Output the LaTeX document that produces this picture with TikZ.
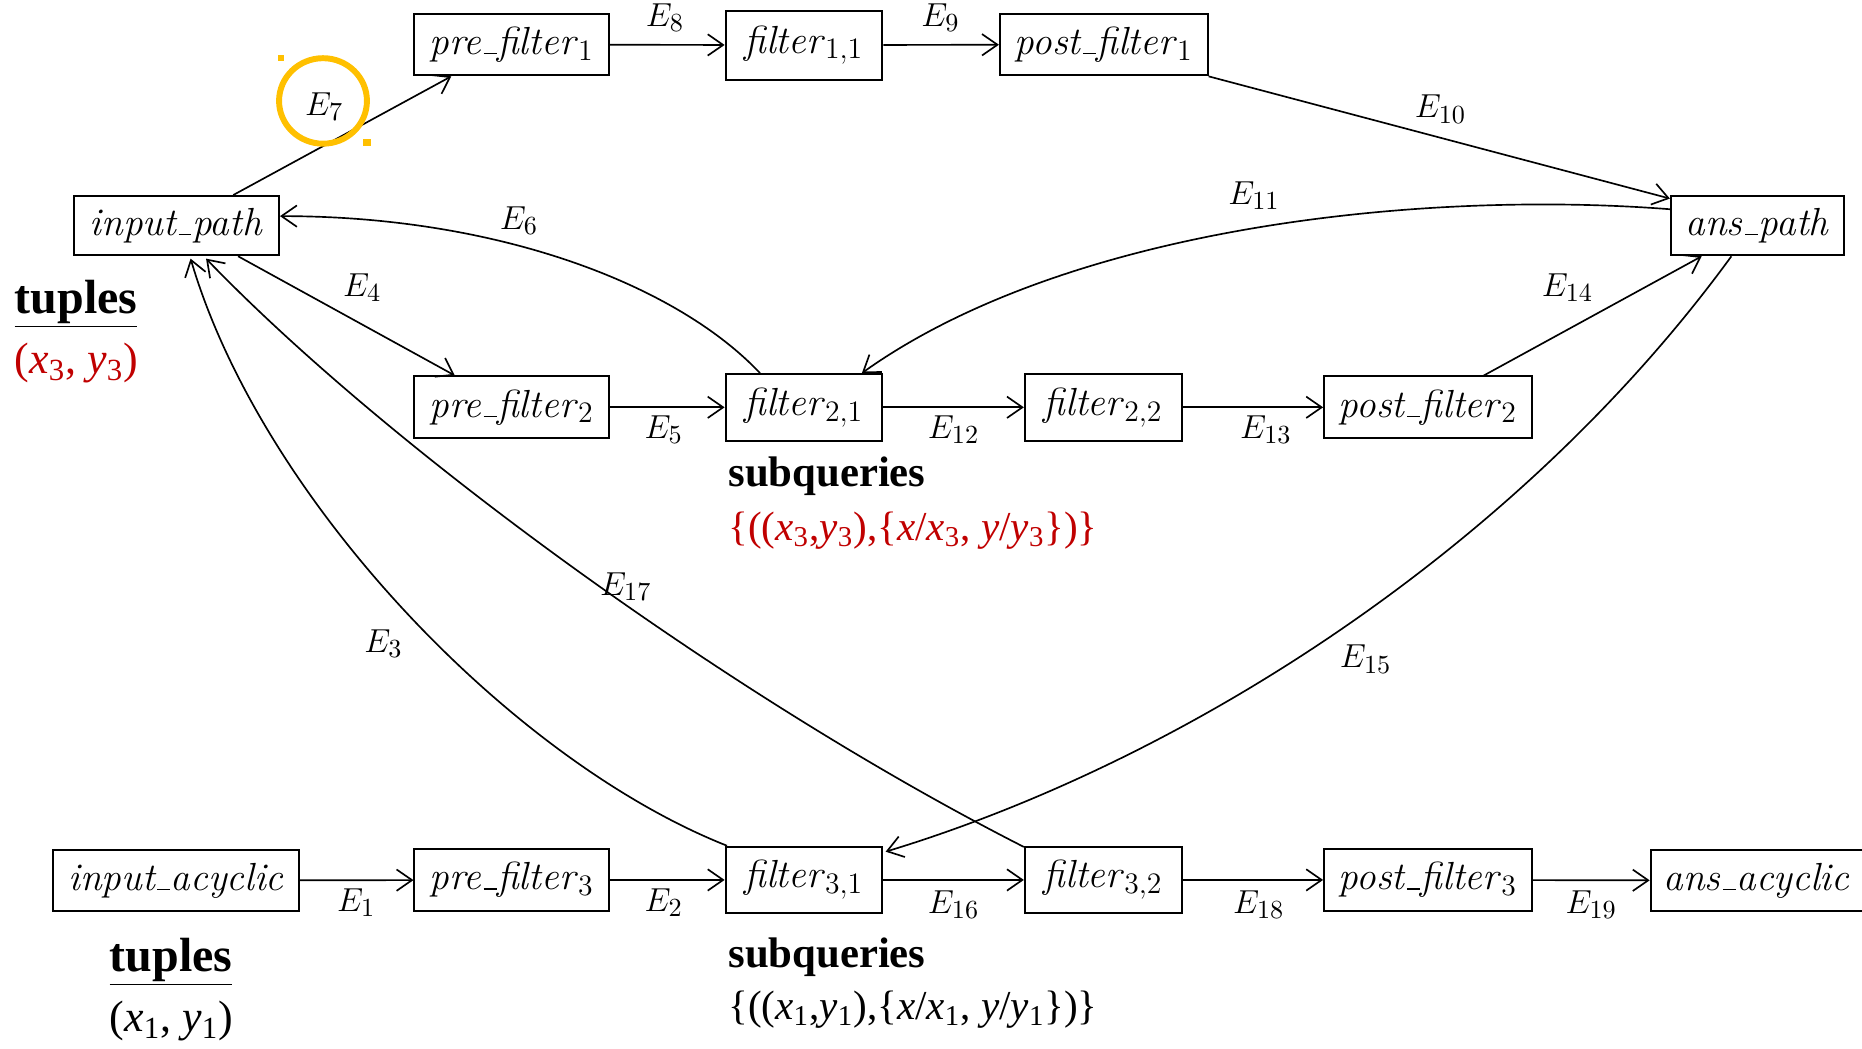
\documentclass[tikz,border=0pt]{standalone}
\usepackage{fix-cm}
\usepackage{fontspec}
\newfontfamily\libserif{Liberation Serif}
\usetikzlibrary{arrows.meta,calc}
\definecolor{hlred}{HTML}{C00000}
\definecolor{hlorange}{HTML}{FFC000}
\DeclareMathSizes{16.5}{16.5}{12.5}{9}
\DeclareMathSizes{14}{14}{11}{8}
\newcommand\us{\leavevmode\kern.06em\vbox{\hrule width.33em height .04em}\kern.02em}
\newcommand\boxfont{\fontsize{16.5}{19}\selectfont}
\newcommand\labfont{\fontsize{14}{16}\selectfont}
\newcommand\notefont{\libserif\fontsize{18.5}{22}\selectfont}
\tikzset{
  box/.style={draw, line width=0.8pt, inner sep=0pt, font=\boxfont},
  pbox/.style={box, minimum width=82pt, minimum height=26pt},
  fbox/.style={box, minimum width=66pt, minimum height=28pt},
  qbox/.style={box, minimum width=87.5pt, minimum height=26pt},
  arr/.style={line width=0.7pt, -{Straight Barb[length=6.5pt,width=9pt,line width=0.7pt]}},
  elab/.style={font=\labfont, inner sep=0pt},
  note/.style={font=\notefont, inner sep=0pt, anchor=west},
}
\begin{document}
\begin{tikzpicture}[x=0.5pt,y=-0.5pt]
\useasboundingbox (0,0) rectangle (1568,883);
% top row
\node[pbox] (pf1) at (431,37.5) {\textit{pre\us filter}$_1$};
\node[fbox, minimum height=29pt] (f11) at (677,38) {\textit{filter}$_{1,1}$};
\node[qbox] (pof1) at (929.5,37.5) {\textit{post\us filter}$_1$};
% middle row
\node[box, minimum width=86.5pt, minimum height=25pt] (ip) at (148.5,190) {\textit{input\us path}};
\node[box, minimum width=73pt, minimum height=25pt] (ap) at (1480,190) {\textit{ans\us path}};
\node[pbox] (pf2) at (431,343) {\textit{pre\us filter}$_2$};
\node[fbox] (f21) at (677,343) {\textit{filter}$_{2,1}$};
\node[fbox] (f22) at (929,343) {\textit{filter}$_{2,2}$};
\node[qbox] (pof2) at (1202.5,343) {\textit{post\us filter}$_2$};
% bottom row
\node[box, minimum width=103.5pt, minimum height=25.5pt] (ia) at (148.5,741.5) {\textit{input\us acyclic}};
\node[pbox] (pf3) at (431,741) {\textit{pre\us filter}$_3$};
\node[fbox] (f31) at (677,741) {\textit{filter}$_{3,1}$};
\node[fbox] (f32) at (929,741) {\textit{filter}$_{3,2}$};
\node[qbox] (pof3) at (1202.5,741) {\textit{post\us filter}$_3$};
\node[box, minimum width=100pt, minimum height=25.5pt, text width=100pt, align=left] (aa) at (1490,741.5) {\hspace*{5.5pt}\textit{ans\us acyclic}};
% horizontal edges
\draw[arr] (pf1) -- (f11);
\draw[arr] (f11) -- (pof1);
\draw[arr] (pf2) -- (f21);
\draw[arr] (f21) -- (f22);
\draw[arr] (f22) -- (pof2);
\draw[arr] (ia) -- (pf3);
\draw[arr] (pf3) -- (f31);
\draw[arr] (f31) -- (f32);
\draw[arr] (f32) -- (pof3);
\draw[arr] (pof3) -- (aa);
% straight diagonals
\draw[arr] ($(ip.north)+(48,0)$) -- ($(pf1.south)+(-51,0)$);
\draw[arr] (pof1.south east) -- ($(ap.north west)+(0,3)$);
\draw[arr] ($(ip.south)+(52,0)$) -- ($(pf2.north)+(-48,0)$);
\draw[arr] ($(pof2.north)+(47,0)$) -- ($(ap.south)+(-47,0)$);
% curves
\draw[arr] ($(ap.north west)+(0,12)$) .. controls (1200,160) and (900,190) .. ($(f21.north east)+(-18,0)$);
\draw[arr] ($(f21.north)+(-37,0)$) .. controls (570,240) and (420,182) .. ($(ip.east)+(0,-8)$);
\draw[arr] ($(ap.south)+(-22,0)$) .. controls (1280,460) and (1000,640) .. ($(f31.north east)+(2,5)$);
\draw[arr] ($(f31.north west)+(2,0)$) .. controls (430,640) and (220,420) .. ($(ip.south)+(12,2)$);
\draw[arr] ($(f32.north west)+(0,1)$) .. controls (620,590) and (330,380) .. ($(ip.south)+(25,2)$);
% edge labels
\node[elab] (l7) at (273,90) {$E_7$};
\node[elab] (l8) at (560,15) {$E_8$};
\node[elab] (l9) at (792,15) {$E_9$};
\node[elab] (l10) at (1213,92) {$E_{10}$};
\node[elab] (l11) at (1056,165) {$E_{11}$};
\node[elab] (l6) at (437,186) {$E_6$};
\node[elab] (l4) at (305,242) {$E_4$};
\node[elab] (l14) at (1320,242) {$E_{14}$};
\node[elab] (l5) at (559,362) {$E_5$};
\node[elab] (l12) at (803,362) {$E_{12}$};
\node[elab] (l13) at (1066,362) {$E_{13}$};
\node[elab] (l17) at (527,494) {$E_{17}$};
\node[elab] (l3) at (323,542) {$E_3$};
\node[elab] (l15) at (1150,555) {$E_{15}$};
\node[elab] (l1) at (300,760) {$E_1$};
\node[elab] (l2) at (559,760) {$E_2$};
\node[elab] (l16) at (803,762) {$E_{16}$};
\node[elab] (l18) at (1060,762) {$E_{18}$};
\node[elab] (l19) at (1340,762) {$E_{19}$};
% highlight
\draw[hlorange, line width=2.5pt] (272,85) ellipse [x radius=18.5pt, y radius=18pt];
\fill[hlorange] (234,46) rectangle (239,51);
\fill[hlorange] (306,117) rectangle (312,123);
% notes
\node[note, font=\libserif\fontsize{20.2}{24}\selectfont] (t1) at (12,256) {\underline{\textbf{tuples}}};
\node[note, text=hlred] (v1) at (12,306) {(\textit{x}\textsubscript{3}, \textit{y}\textsubscript{3})};
\node[note, font=\libserif\fontsize{18}{22}\selectfont] (s1) at (613,401) {\textbf{subqueries}};
\node[note, text=hlred, font=\libserif\fontsize{17.3}{22}\selectfont] (q1) at (613,447) {\{((\textit{x}\textsubscript{3},\textit{y}\textsubscript{3}),\{\textit{x}/\textit{x}\textsubscript{3}, \textit{y}/\textit{y}\textsubscript{3}\})\}};
\node[note, font=\libserif\fontsize{20.2}{24}\selectfont] (t2) at (92,810) {\underline{\textbf{tuples}}};
\node[note] (v2) at (92,860) {(\textit{x}\textsubscript{1}, \textit{y}\textsubscript{1})};
\node[note, font=\libserif\fontsize{18}{22}\selectfont] (s2) at (613,806) {\textbf{subqueries}};
\node[note, font=\libserif\fontsize{17.3}{22}\selectfont] (q2) at (613,850) {\{((\textit{x}\textsubscript{1},\textit{y}\textsubscript{1}),\{\textit{x}/\textit{x}\textsubscript{1}, \textit{y}/\textit{y}\textsubscript{1}\})\}};
\end{tikzpicture}
\end{document}
